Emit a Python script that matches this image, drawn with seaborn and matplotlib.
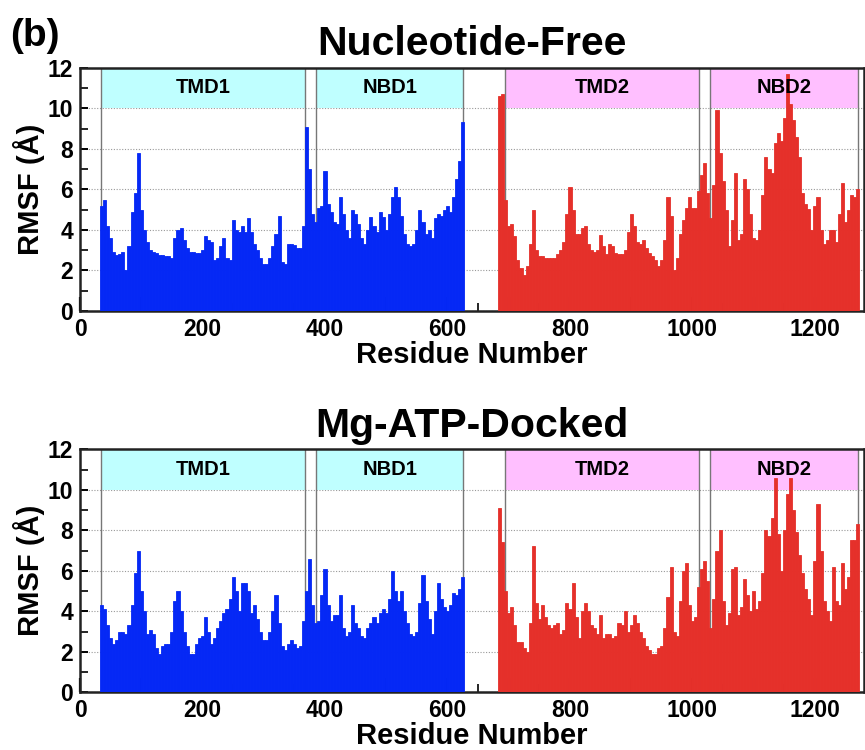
import numpy as np
import pandas as pd
import seaborn as sns
import matplotlib
matplotlib.use("Agg")
import matplotlib.pyplot as plt
from matplotlib.ticker import MultipleLocator, FuncFormatter

# ---------------- data ----------------
res_half1 = np.arange(35, 626, 5)     # residues of TMD1/NBD1 half (5-residue bins)
res_half2 = np.arange(685, 1271, 5)   # residues of TMD2/NBD2 half

nf_half1 = [5.2, 5.5, 4.2, 3.6, 2.9, 2.75, 2.8, 2.9, 2.0, 3.2,
            4.9, 5.8, 7.8, 5.0, 4.0, 3.4, 3.0, 2.9, 2.85, 2.75,
            2.75, 2.7, 2.7, 2.6, 3.6, 4.0, 4.1, 3.5, 3.1, 2.9,
            2.9, 2.85, 2.85, 3.0, 3.7, 3.5, 3.4, 2.5, 2.6, 3.2,
            3.6, 2.6, 2.5, 4.5, 4.0, 3.9, 4.2, 3.9, 4.6, 3.9,
            3.3, 3.0, 2.6, 2.3, 2.3, 2.6, 3.2, 3.8, 4.7, 2.4,
            2.3, 3.3, 3.3, 3.25, 3.1, 3.1, 4.2, 9.1, 7.0, 4.8,
            4.4, 5.1, 5.2, 6.9, 5.3, 4.9, 4.4, 4.3, 5.6, 4.8,
            4.0, 3.6, 5.0, 4.8, 4.3, 3.6, 3.3, 4.0, 4.65, 4.2,
            3.9, 4.9, 4.65, 4.0, 4.8, 5.6, 6.1, 5.6, 4.7, 3.8,
            3.3, 3.2, 3.3, 4.0, 5.0, 4.4, 3.8, 4.0, 3.6, 4.6,
            4.8, 4.7, 5.0, 5.2, 4.9, 5.6, 6.5, 7.4, 9.3]

nf_half2 = [10.6, 10.7, 5.5, 4.2, 4.3, 3.7, 2.5, 2.1, 1.8, 2.2,
            3.3, 5.0, 3.0, 2.7, 2.7, 2.6, 2.6, 2.6, 2.6, 2.8,
            3.0, 3.4, 4.8, 6.1, 5.0, 3.8, 3.8, 4.1, 4.2, 3.3,
            3.0, 2.9, 3.0, 3.75, 3.2, 2.8, 3.3, 3.2, 2.85, 2.8,
            2.8, 3.0, 3.9, 4.8, 4.2, 3.4, 3.3, 3.5, 3.1, 2.85,
            2.7, 2.5, 2.2, 2.5, 3.5, 5.6, 4.7, 2.0, 2.6, 3.8,
            4.5, 5.1, 5.6, 5.1, 5.1, 5.9, 6.7, 7.3, 5.8, 4.6,
            6.2, 9.9, 7.8, 6.4, 5.0, 3.2, 4.5, 6.8, 3.5, 3.8,
            6.5, 6.0, 4.8, 3.6, 3.5, 4.0, 5.7, 7.6, 7.0, 6.8,
            8.3, 8.8, 8.4, 9.5, 11.7, 10.2, 9.4, 8.6, 7.6, 5.8,
            5.3, 5.05, 4.0, 5.2, 5.6, 4.0, 3.3, 3.5, 4.0, 4.0,
            3.4, 4.8, 6.3, 4.4, 5.0, 5.7, 5.6, 6.0]

atp_half1 = [4.3, 4.1, 3.3, 2.7, 2.4, 2.6, 3.0, 3.0, 2.9, 3.3,
             4.3, 5.9, 7.0, 5.0, 4.0, 2.9, 3.1, 2.9, 2.2, 1.9,
             2.3, 2.4, 2.4, 3.0, 4.5, 5.0, 4.0, 3.0, 2.3, 1.9,
             1.9, 2.4, 2.7, 2.8, 3.7, 3.0, 2.4, 2.7, 3.2, 3.5,
             3.9, 4.1, 4.6, 5.7, 5.0, 4.0, 5.4, 5.4, 5.0, 3.9,
             4.3, 3.6, 3.0, 2.6, 2.6, 3.0, 4.0, 4.8, 3.4, 2.3,
             2.1, 2.4, 2.6, 2.4, 2.2, 2.3, 3.5, 5.0, 6.6, 4.3,
             3.4, 3.5, 4.8, 6.1, 4.3, 3.5, 3.8, 3.8, 4.8, 3.2,
             2.8, 3.0, 4.3, 3.4, 3.2, 2.8, 2.7, 3.2, 3.4, 3.7,
             3.4, 3.9, 4.1, 3.9, 4.6, 6.0, 5.0, 4.5, 5.0, 4.0,
             3.4, 2.9, 2.8, 3.0, 4.4, 5.8, 4.5, 3.6, 2.9, 4.0,
             5.4, 4.6, 4.2, 4.0, 4.3, 4.9, 4.8, 5.1, 5.7]

atp_half2 = [9.1, 7.4, 5.0, 3.9, 4.2, 3.3, 2.5, 2.5, 2.2, 2.0,
             3.4, 7.2, 4.4, 3.6, 4.3, 3.7, 3.3, 3.2, 3.3, 3.4,
             2.9, 3.1, 4.4, 4.1, 5.4, 3.7, 2.7, 4.0, 4.4, 4.0,
             3.3, 3.2, 2.9, 3.8, 2.7, 2.9, 2.9, 2.7, 2.8, 3.4,
             3.3, 4.0, 3.0, 3.3, 3.8, 3.4, 3.0, 2.7, 2.3, 2.1,
             1.9, 1.9, 2.2, 2.3, 3.2, 4.7, 6.2, 3.0, 2.8, 4.5,
             6.0, 6.4, 4.3, 3.5, 3.7, 5.2, 6.1, 6.5, 5.5, 3.2,
             4.6, 7.0, 8.0, 4.5, 3.3, 3.9, 6.1, 6.2, 3.8, 4.2,
             5.6, 4.8, 4.0, 5.0, 4.1, 4.5, 5.9, 8.0, 7.7, 8.6,
             10.6, 7.8, 6.0, 8.0, 9.8, 10.6, 9.0, 7.9, 6.8, 5.9,
             5.1, 4.6, 3.8, 6.5, 9.3, 7.0, 4.5, 4.0, 3.5, 6.2,
             4.5, 4.3, 6.4, 5.1, 5.7, 7.5, 7.5, 8.3]

domain_names = ["TMD1", "NBD1", "TMD2", "NBD2"]
domain_start = [34, 386, 694, 1029]
domain_end = [368, 626, 1010, 1271]
domain_colors = ["#bfffff", "#bfffff", "#ffbfff", "#ffbfff"]

panel_titles = ["Nucleotide-Free", "Mg-ATP-Docked"]
panel_data = [(nf_half1, nf_half2), (atp_half1, atp_half2)]

# ---------------- style ----------------
sns.set_style("white")
plt.rcParams["font.family"] = ["Liberation Sans", "DejaVu Sans"]
plt.rcParams["font.weight"] = "bold"
for key in ("text.color", "axes.labelcolor", "xtick.color", "ytick.color"):
    plt.rcParams[key] = "black"

BLUE = "#0528f5"
RED = "#e5302a"

fig = plt.figure(figsize=(8.65, 7.5), dpi=100)
axes = [fig.add_axes([0.0925, 0.5853, 0.9063, 0.3244]),
        fig.add_axes([0.0925, 0.0769, 0.9063, 0.3241])]

for ax, title, (h1, h2) in zip(axes, panel_titles, panel_data):
    df1 = pd.DataFrame({"res": res_half1, "rmsf": h1})
    df2 = pd.DataFrame({"res": res_half2, "rmsf": h2})
    sns.barplot(data=df1, x="res", y="rmsf", native_scale=True, width=1.0,
                color=BLUE, saturation=1, errorbar=None, linewidth=0.6,
                edgecolor=BLUE, ax=ax, zorder=3)
    sns.barplot(data=df2, x="res", y="rmsf", native_scale=True, width=1.0,
                color=RED, saturation=1, errorbar=None, linewidth=0.6,
                edgecolor=RED, ax=ax, zorder=3)

    for name, s, e, c in zip(domain_names, domain_start, domain_end, domain_colors):
        ax.fill_between([s, e], 10, 12, color=c, linewidth=0, zorder=1)
        ax.text((s + e) / 2, 11, name, ha="center", va="center", color="black",
                fontsize=14.5, fontweight="bold", zorder=5)
        for xv in (s, e):
            ax.axvline(xv, color="#777777", linewidth=1.0, zorder=2)

    ax.set_xlim(0, 1280)
    ax.set_ylim(0, 12)
    ax.set_axisbelow(True)
    ax.yaxis.grid(True, linestyle=(0, (1, 1.5)), color="#999999", linewidth=0.8)
    ax.xaxis.grid(False)

    ax.xaxis.set_major_locator(MultipleLocator(100))
    ax.xaxis.set_minor_locator(MultipleLocator(50))
    ax.xaxis.set_major_formatter(FuncFormatter(
        lambda v, p: f"{int(round(v))}" if int(round(v)) % 200 == 0 else ""))
    ax.yaxis.set_major_locator(MultipleLocator(2))
    ax.yaxis.set_minor_locator(MultipleLocator(1))

    ax.tick_params(axis="x", which="major", direction="in", length=10, width=1.6,
                   labelsize=16.5, pad=5, bottom=True, top=False, colors="black")
    ax.tick_params(axis="x", which="minor", direction="in", length=6, width=1.2,
                   bottom=True, top=False, colors="black")
    ax.tick_params(axis="y", which="major", direction="in", length=6, width=1.4,
                   labelsize=16.5, pad=5, left=True, right=False, colors="black")
    ax.tick_params(axis="y", which="minor", direction="in", length=6, width=1.2,
                   left=True, right=False, colors="black")
    for lab in ax.get_xticklabels() + ax.get_yticklabels():
        lab.set_fontweight("bold")

    for sp in ax.spines.values():
        sp.set_visible(True)
        sp.set_color("#222222")
        sp.set_linewidth(1.8)

    ax.set_xlabel("Residue Number", fontsize=21, fontweight="bold", labelpad=0,
                  color="black")
    ax.set_ylabel("RMSF (Å)", fontsize=21, fontweight="bold", labelpad=2,
                  color="black")
    ax.set_title(title, fontsize=29.5, fontweight="bold", pad=9, color="black")

fig.text(0.012, 0.938, "(b)", fontsize=28, fontweight="bold", ha="left",
         va="baseline", color="black")

fig.savefig("out.png", dpi=100)
